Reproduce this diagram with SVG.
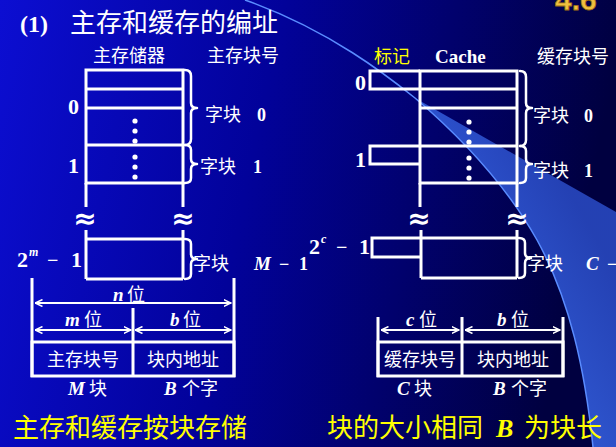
<svg xmlns="http://www.w3.org/2000/svg" width="616" height="447" viewBox="0 0 616 447">
<defs>
<linearGradient id="bg" x1="0" y1="0" x2="1" y2="0.15">
<stop offset="0" stop-color="#0c0ed2"/>
<stop offset="0.45" stop-color="#02029a"/>
<stop offset="1" stop-color="#000040"/>
</linearGradient>
<linearGradient id="wedge" x1="0.1" y1="0.6" x2="0.6" y2="0.1">
<stop offset="0" stop-color="#3a6cf0"/>
<stop offset="1" stop-color="#2848c0"/>
</linearGradient>
<marker id="ah" viewBox="0 0 8 8" refX="7.5" refY="4" markerWidth="8" markerHeight="8" markerUnits="userSpaceOnUse" orient="auto-start-reverse">
<path d="M0,0.5 L7.5,4 L0,7.5" fill="none" stroke="#fff" stroke-width="1.5"/>
</marker>
<style>
.ln{fill:none;stroke:#fff;stroke-width:3}
.br{fill:none;stroke:#fff;stroke-width:2.5;stroke-linecap:round;stroke-linejoin:round}
.ar{fill:none;stroke:#fff;stroke-width:1.8}
.cj{font-family:"Noto Sans CJK SC","Noto Sans",sans-serif;fill:#fff}
.s18{font-size:18px}
.s26{font-size:26px}
.sf{font-family:"Liberation Serif",serif;fill:#fff;font-weight:bold}
.it{font-family:"Liberation Serif",serif;font-style:italic;font-weight:bold;fill:#fff}
.yl{fill:#ffff00}
.dt{fill:#fff}
.ap{font-family:"DejaVu Sans",sans-serif;fill:#fff;font-size:28px;font-weight:bold}
</style>
</defs>
<rect width="616" height="447" fill="url(#bg)"/>
<path d="M415,98 L616,212 L616,447 L593,447 C585,370 570,300 537,240 C510,192 470,145 415,98 Z" fill="url(#wedge)" opacity="0.9"/>
<path d="M593,447 C585,370 570,300 537,240 C510,192 470,145 415,98 C390,78 330,30 245,0" fill="none" stroke="#5a8cff" stroke-width="1.5"/>
<text x="555" y="10" font-family="Liberation Sans,sans-serif" font-weight="bold" font-size="30" fill="#f0c040" stroke="#a07010" stroke-width="0.8">4.6</text>

<g id="title">
<text x="20" y="32" class="sf" font-size="24">(1)</text>
<text x="70" y="32" class="cj s26">主存和缓存的编址</text>
</g>

<g id="main-memory">
<text x="93" y="62" class="cj s18">主存储器</text>
<text x="207" y="62" class="cj s18">主存块号</text>
<rect x="86" y="70" width="97" height="113" class="ln"/>
<path d="M86,89 H183 M86,108 H183 M86,145 H183 M86,183 V207 M183,183 V207 M86,230 V279 M183,230 V279 M86,239 H183 M86,279 H183" class="ln"/>
<circle cx="135" cy="121" r="2.6" class="dt"/><circle cx="135" cy="131" r="2.6" class="dt"/><circle cx="135" cy="141" r="2.6" class="dt"/>
<circle cx="135" cy="157" r="2.6" class="dt"/><circle cx="135" cy="167" r="2.6" class="dt"/><circle cx="135" cy="177" r="2.6" class="dt"/>
<text x="85" y="228" class="ap" text-anchor="middle">≈</text>
<text x="183" y="228" class="ap" text-anchor="middle">≈</text>
<text x="68" y="114" class="sf" font-size="22">0</text>
<text x="68" y="173" class="sf" font-size="22">1</text>
<text x="17" y="267" class="sf" font-size="22">2</text>
<text x="29" y="256" class="it" font-size="12">m</text>
<text x="47" y="267" class="sf" font-size="20">−</text>
<text x="71" y="267" class="sf" font-size="22">1</text>
<path d="M185,70 Q191,70 191,76 L191,103 Q191,108 197,108 Q191,108 191,113 L191,139 Q191,145 185,145" class="br"/>
<path d="M185,145 Q191,145 191,150 L191,159 Q191,164 197,164 Q191,164 191,169 L191,178 Q191,183 185,183" class="br"/>
<path d="M185,239 Q191,239 191,244 L191,254 Q191,259 197,259 Q191,259 191,264 L191,274 Q191,279 185,279" class="br"/>
<text x="205" y="121" class="cj s18">字块</text><text x="257" y="121" class="sf" font-size="18">0</text>
<text x="200" y="173" class="cj s18">字块</text><text x="253" y="173" class="sf" font-size="18">1</text>
<text x="193" y="270" class="cj s18">字块</text>
<text x="254" y="270" class="it" font-size="19">M</text>
<text x="279" y="270" class="sf" font-size="18">−</text>
<text x="299" y="270" class="sf" font-size="18">1</text>
</g>

<g id="cache">
<text x="374" y="63" class="cj s18 yl">标记</text>
<text x="435" y="63" class="sf" font-size="19">Cache</text>
<text x="537" y="63" class="cj s18">缓存块号</text>
<rect x="420" y="71" width="97" height="112" class="ln"/>
<path d="M420,89 H517 M420,108 H517 M420,146 H517 M420,183 V207 M517,183 V207 M421,230 V278 M517,230 V278 M421,238 H517 M421,278 H517" class="ln"/>
<path d="M420,71 H370 V89 H420 M420,146 H370 V164 H420 M421,238 H372 V257 H421" class="ln"/>
<circle cx="469" cy="122" r="2.6" class="dt"/><circle cx="469" cy="132" r="2.6" class="dt"/><circle cx="469" cy="142" r="2.6" class="dt"/>
<circle cx="469" cy="158" r="2.6" class="dt"/><circle cx="469" cy="168" r="2.6" class="dt"/><circle cx="469" cy="178" r="2.6" class="dt"/>
<text x="419" y="228" class="ap" text-anchor="middle">≈</text>
<text x="517" y="228" class="ap" text-anchor="middle">≈</text>
<text x="355" y="90" class="sf" font-size="22">0</text>
<text x="355" y="167" class="sf" font-size="22">1</text>
<text x="309" y="254" class="sf" font-size="22">2</text>
<text x="321" y="243" class="it" font-size="12">c</text>
<text x="336" y="254" class="sf" font-size="20">−</text>
<text x="359" y="254" class="sf" font-size="22">1</text>
<path d="M520,71 Q526,71 526,77 L526,103 Q526,108 532,108 Q526,108 526,113 L526,140 Q526,146 520,146" class="br"/>
<path d="M520,146 Q526,146 526,151 L526,159 Q526,164 532,164 Q526,164 526,169 L526,178 Q526,183 520,183" class="br"/>
<path d="M519,238 Q525,238 525,243 L525,253 Q525,258 531,258 Q525,258 525,263 L525,273 Q525,278 519,278" class="br"/>
<text x="533" y="122" class="cj s18">字块</text><text x="584" y="122" class="sf" font-size="18">0</text>
<text x="533" y="177" class="cj s18">字块</text><text x="584" y="177" class="sf" font-size="18">1</text>
<text x="527" y="270" class="cj s18">字块</text>
<text x="586" y="270" class="it" font-size="19">C</text>
<text x="607" y="270" class="sf" font-size="18">−</text>
</g>

<g id="main-address">
<path d="M32,278 V377 M234,278 V377 M133,308 V377" class="ln"/>
<rect x="32" y="342" width="202" height="34" class="ln"/>
<text x="83" y="366" class="cj s18" text-anchor="middle">主存块号</text>
<text x="183" y="366" class="cj s18" text-anchor="middle">块内地址</text>
<text x="68" y="395" class="it" font-size="19">M</text><text x="89" y="395" class="cj s18">块</text>
<text x="164" y="395" class="it" font-size="19">B</text><text x="182" y="395" class="cj s18">个字</text>
</g>

<g id="cache-address">
<path d="M378,317 V377 M563,317 V377 M462,317 V377" class="ln"/>
<rect x="378" y="342" width="185" height="34" class="ln"/>
<text x="420" y="366" class="cj s18" text-anchor="middle">缓存块号</text>
<text x="513" y="366" class="cj s18" text-anchor="middle">块内地址</text>
<text x="397" y="395" class="it" font-size="19">C</text><text x="414" y="395" class="cj s18">块</text>
<text x="493" y="395" class="it" font-size="19">B</text><text x="511" y="395" class="cj s18">个字</text>
</g>

<g id="connectors">
<line x1="35" y1="303" x2="231" y2="303" class="ar" marker-start="url(#ah)" marker-end="url(#ah)"/>
<line x1="35" y1="330" x2="131" y2="330" class="ar" marker-start="url(#ah)" marker-end="url(#ah)"/>
<line x1="135" y1="330" x2="231" y2="330" class="ar" marker-start="url(#ah)" marker-end="url(#ah)"/>
<line x1="381" y1="330" x2="459" y2="330" class="ar" marker-start="url(#ah)" marker-end="url(#ah)"/>
<line x1="465" y1="330" x2="560" y2="330" class="ar" marker-start="url(#ah)" marker-end="url(#ah)"/>
</g>

<g id="bit-labels">
<text x="113" y="301" class="it" font-size="19">n</text><text x="127" y="301" class="cj s18">位</text>
<text x="65" y="326" class="it" font-size="19">m</text><text x="84" y="326" class="cj s18">位</text>
<text x="170" y="326" class="it" font-size="19">b</text><text x="183" y="326" class="cj s18">位</text>
<text x="406" y="326" class="it" font-size="19">c</text><text x="419" y="326" class="cj s18">位</text>
<text x="497" y="326" class="it" font-size="19">b</text><text x="511" y="326" class="cj s18">位</text>
</g>

<g id="notes">
<text x="13" y="437" class="cj s26 yl">主存和缓存按块存储</text>
<text x="327" y="437" class="cj s26 yl">块的大小相同</text>
<text x="496" y="437" class="it yl" font-size="26">B</text>
<text x="524" y="437" class="cj s26 yl">为块长</text>
</g>
</svg>
